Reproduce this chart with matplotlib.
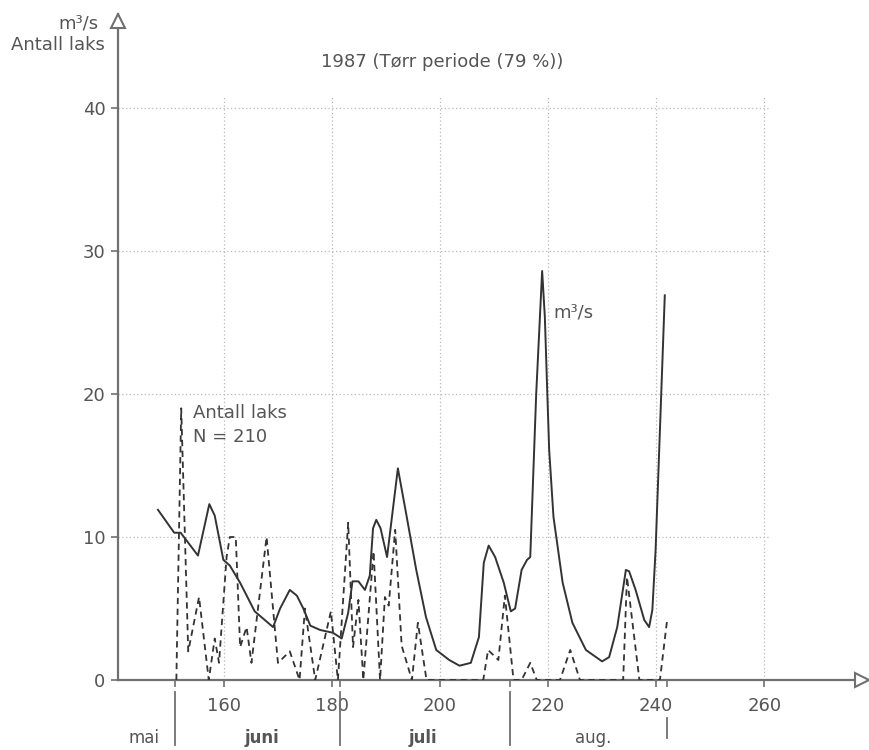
import matplotlib
matplotlib.use("Agg")
import matplotlib.pyplot as plt
from matplotlib.transforms import blended_transform_factory

plt.rcParams['font.family'] = ['DejaVu Sans']

# ---- data ----
flow_day = [147.8, 150.8, 152.0, 155.2, 157.3, 158.3, 159.9, 161.1, 163.0, 165.7,
            169.1, 170.4, 172.2, 173.5, 174.7, 176.0, 177.8, 180.2, 181.8, 183.0,
            183.8, 184.9, 186.1, 187.0, 187.6, 188.2, 189.0, 190.2, 192.2, 193.7,
            195.6, 197.4, 199.3, 201.7, 203.6, 205.7, 207.2, 208.1, 209.0, 210.2,
            211.8, 213.1, 213.9, 215.1, 216.1, 216.7, 217.8, 218.9, 219.4, 219.8,
            220.2, 221.0, 222.7, 224.5, 227.0, 230.0, 231.3, 232.8, 234.4, 235.0,
            236.2, 237.8, 238.7, 239.3, 239.9, 241.6]
flow_val = [11.9, 10.3, 10.3, 8.7, 12.3, 11.5, 8.4, 8.0, 6.8, 4.8,
            3.7, 5.0, 6.3, 5.9, 5.0, 3.8, 3.5, 3.3, 2.9, 4.7,
            6.9, 6.9, 6.3, 7.3, 10.6, 11.2, 10.6, 8.6, 14.8, 11.7,
            7.7, 4.4, 2.1, 1.4, 1.0, 1.2, 3.0, 8.2, 9.4, 8.6,
            6.8, 4.8, 5.0, 7.7, 8.4, 8.6, 20.0, 28.6, 25.4, 20.7,
            16.1, 11.4, 6.8, 4.0, 2.1, 1.3, 1.6, 3.7, 7.7, 7.6,
            6.3, 4.2, 3.7, 4.9, 9.1, 26.9]

fish_day = [151.2, 152.1, 153.4, 155.4, 157.2, 158.3, 159.1, 160.5, 161.1, 162.2,
            163.0, 164.2, 165.1, 167.9, 170.0, 172.2, 174.0, 175.0, 176.9, 179.8,
            181.1, 183.0, 183.9, 184.9, 185.8, 187.7, 188.9, 189.8, 190.5, 191.7,
            192.9, 194.8, 195.9, 197.5, 208.0, 208.9, 210.8, 212.0, 213.6, 215.1,
            216.7, 217.9, 222.2, 224.1, 225.9, 233.9, 234.6, 236.9, 240.7, 242.0]
fish_val = [0.0, 19.0, 2.0, 5.8, 0.0, 2.9, 1.2, 8.6, 10.0, 10.0,
            2.3, 3.7, 1.2, 10.0, 1.2, 2.0, 0.0, 5.0, 0.0, 4.8,
            0.0, 11.0, 2.3, 5.6, 0.0, 9.0, 0.0, 5.8, 5.2, 10.5,
            2.4, 0.0, 4.0, 0.0, 0.0, 2.1, 1.4, 5.9, 0.0, 0.0,
            1.2, 0.0, 0.0, 2.1, 0.0, 0.0, 7.2, 0.0, 0.0, 4.1]

x_ticks = [160, 180, 200, 220, 240, 260]
y_ticks = [0, 10, 20, 30, 40]
month_bounds = [151, 181.5, 213, 242]
month_names = ["mai", "juni", "juli", "aug."]
month_centers = [145.2, 167.0, 196.9, 228.3]
month_bold = [False, True, True, False]

title = "1987 (Tørr periode (79 %))"

# ---- figure ----
W, H = 870, 750
TOP = 14
fig = plt.figure(figsize=(W / 100, H / 100), dpi=100)
ax = fig.add_axes([118 / W, (H - 680) / H, (862 - 118) / W, (680 - TOP) / H])
ax.set_xlim(140.4, 278.1)
ax.set_ylim(0, (680 - TOP) / 14.3)
AH = 680 - TOP

txt = "#555555"
axc = "#707070"
linec = "#333333"

# grid (limited region)
ax.vlines(x_ticks, 0, 40.9, colors="#b8b8b8", linestyles=(0, (1, 2)), linewidth=0.9, zorder=1)
ax.hlines(y_ticks[1:], 140.4, 261.1, colors="#b8b8b8", linestyles=(0, (1, 2)), linewidth=0.9, zorder=1)

# series
ax.plot(flow_day, flow_val, color=linec, linewidth=1.4, zorder=3)
ax.plot(fish_day, fish_val, color=linec, linewidth=1.3, linestyle=(0, (3.5, 2.5)), zorder=3)

# spines
for s in ["top", "right"]:
    ax.spines[s].set_visible(False)
for s in ["left", "bottom"]:
    ax.spines[s].set_color(axc)
    ax.spines[s].set_linewidth(1.6)
ax.plot(1, 0, marker=">", markersize=10, mfc="white", mec=axc, mew=1.5,
        transform=ax.transAxes, clip_on=False, zorder=5)
ax.plot(0, 1 - 7 / AH, marker="^", markersize=10, mfc="white", mec=axc, mew=1.5,
        transform=ax.transAxes, clip_on=False, zorder=5)

# ticks
ax.set_xticks(x_ticks)
ax.set_xticklabels([str(v) for v in x_ticks])
ax.set_xticks(month_bounds, minor=True)
ax.set_yticks(y_ticks)
ax.set_yticklabels([str(v) for v in y_ticks])
ax.tick_params(axis="x", which="both", direction="out", length=5, width=1.2,
               color=axc, labelcolor=txt, labelsize=13, pad=7)
ax.tick_params(axis="y", direction="out", length=5, width=1.2,
               color=axc, labelcolor=txt, labelsize=13, pad=4)

# month separators and labels below axis
trans = blended_transform_factory(ax.transData, ax.transAxes)
for i, b in enumerate(month_bounds):
    if i < len(month_bounds) - 1:
        y0, y1 = -12 / AH, -65 / AH
    else:
        y0, y1 = -38 / AH, -58 / AH
    ax.plot([b, b], [y0, y1], color=axc, linewidth=1.3, transform=trans, clip_on=False)
for name, c, bold in zip(month_names, month_centers, month_bold):
    ax.text(c, -58 / AH, name, transform=trans, ha="center", va="center",
            fontsize=12, color=txt, fontweight="bold" if bold else "normal")

# texts
fig.text(99 / W, 1 - 24 / H, "m³/s", ha="right", va="center", fontsize=13, color=txt)
fig.text(105 / W, 1 - 45 / H, "Antall laks", ha="right", va="center", fontsize=13, color=txt)
fig.text(442 / W, 1 - 62 / H, title, ha="center", va="center", fontsize=13, color=txt)
ax.text(154.3, 18.7, "Antall laks", ha="left", va="center", fontsize=13, color=txt)
ax.text(154.3, 17.0, "N = 210", ha="left", va="center", fontsize=13, color=txt)
ax.text(220.9, 25.7, "m³/s", ha="left", va="center", fontsize=13, color=txt)

fig.savefig("out.png", dpi=100, facecolor="white")
